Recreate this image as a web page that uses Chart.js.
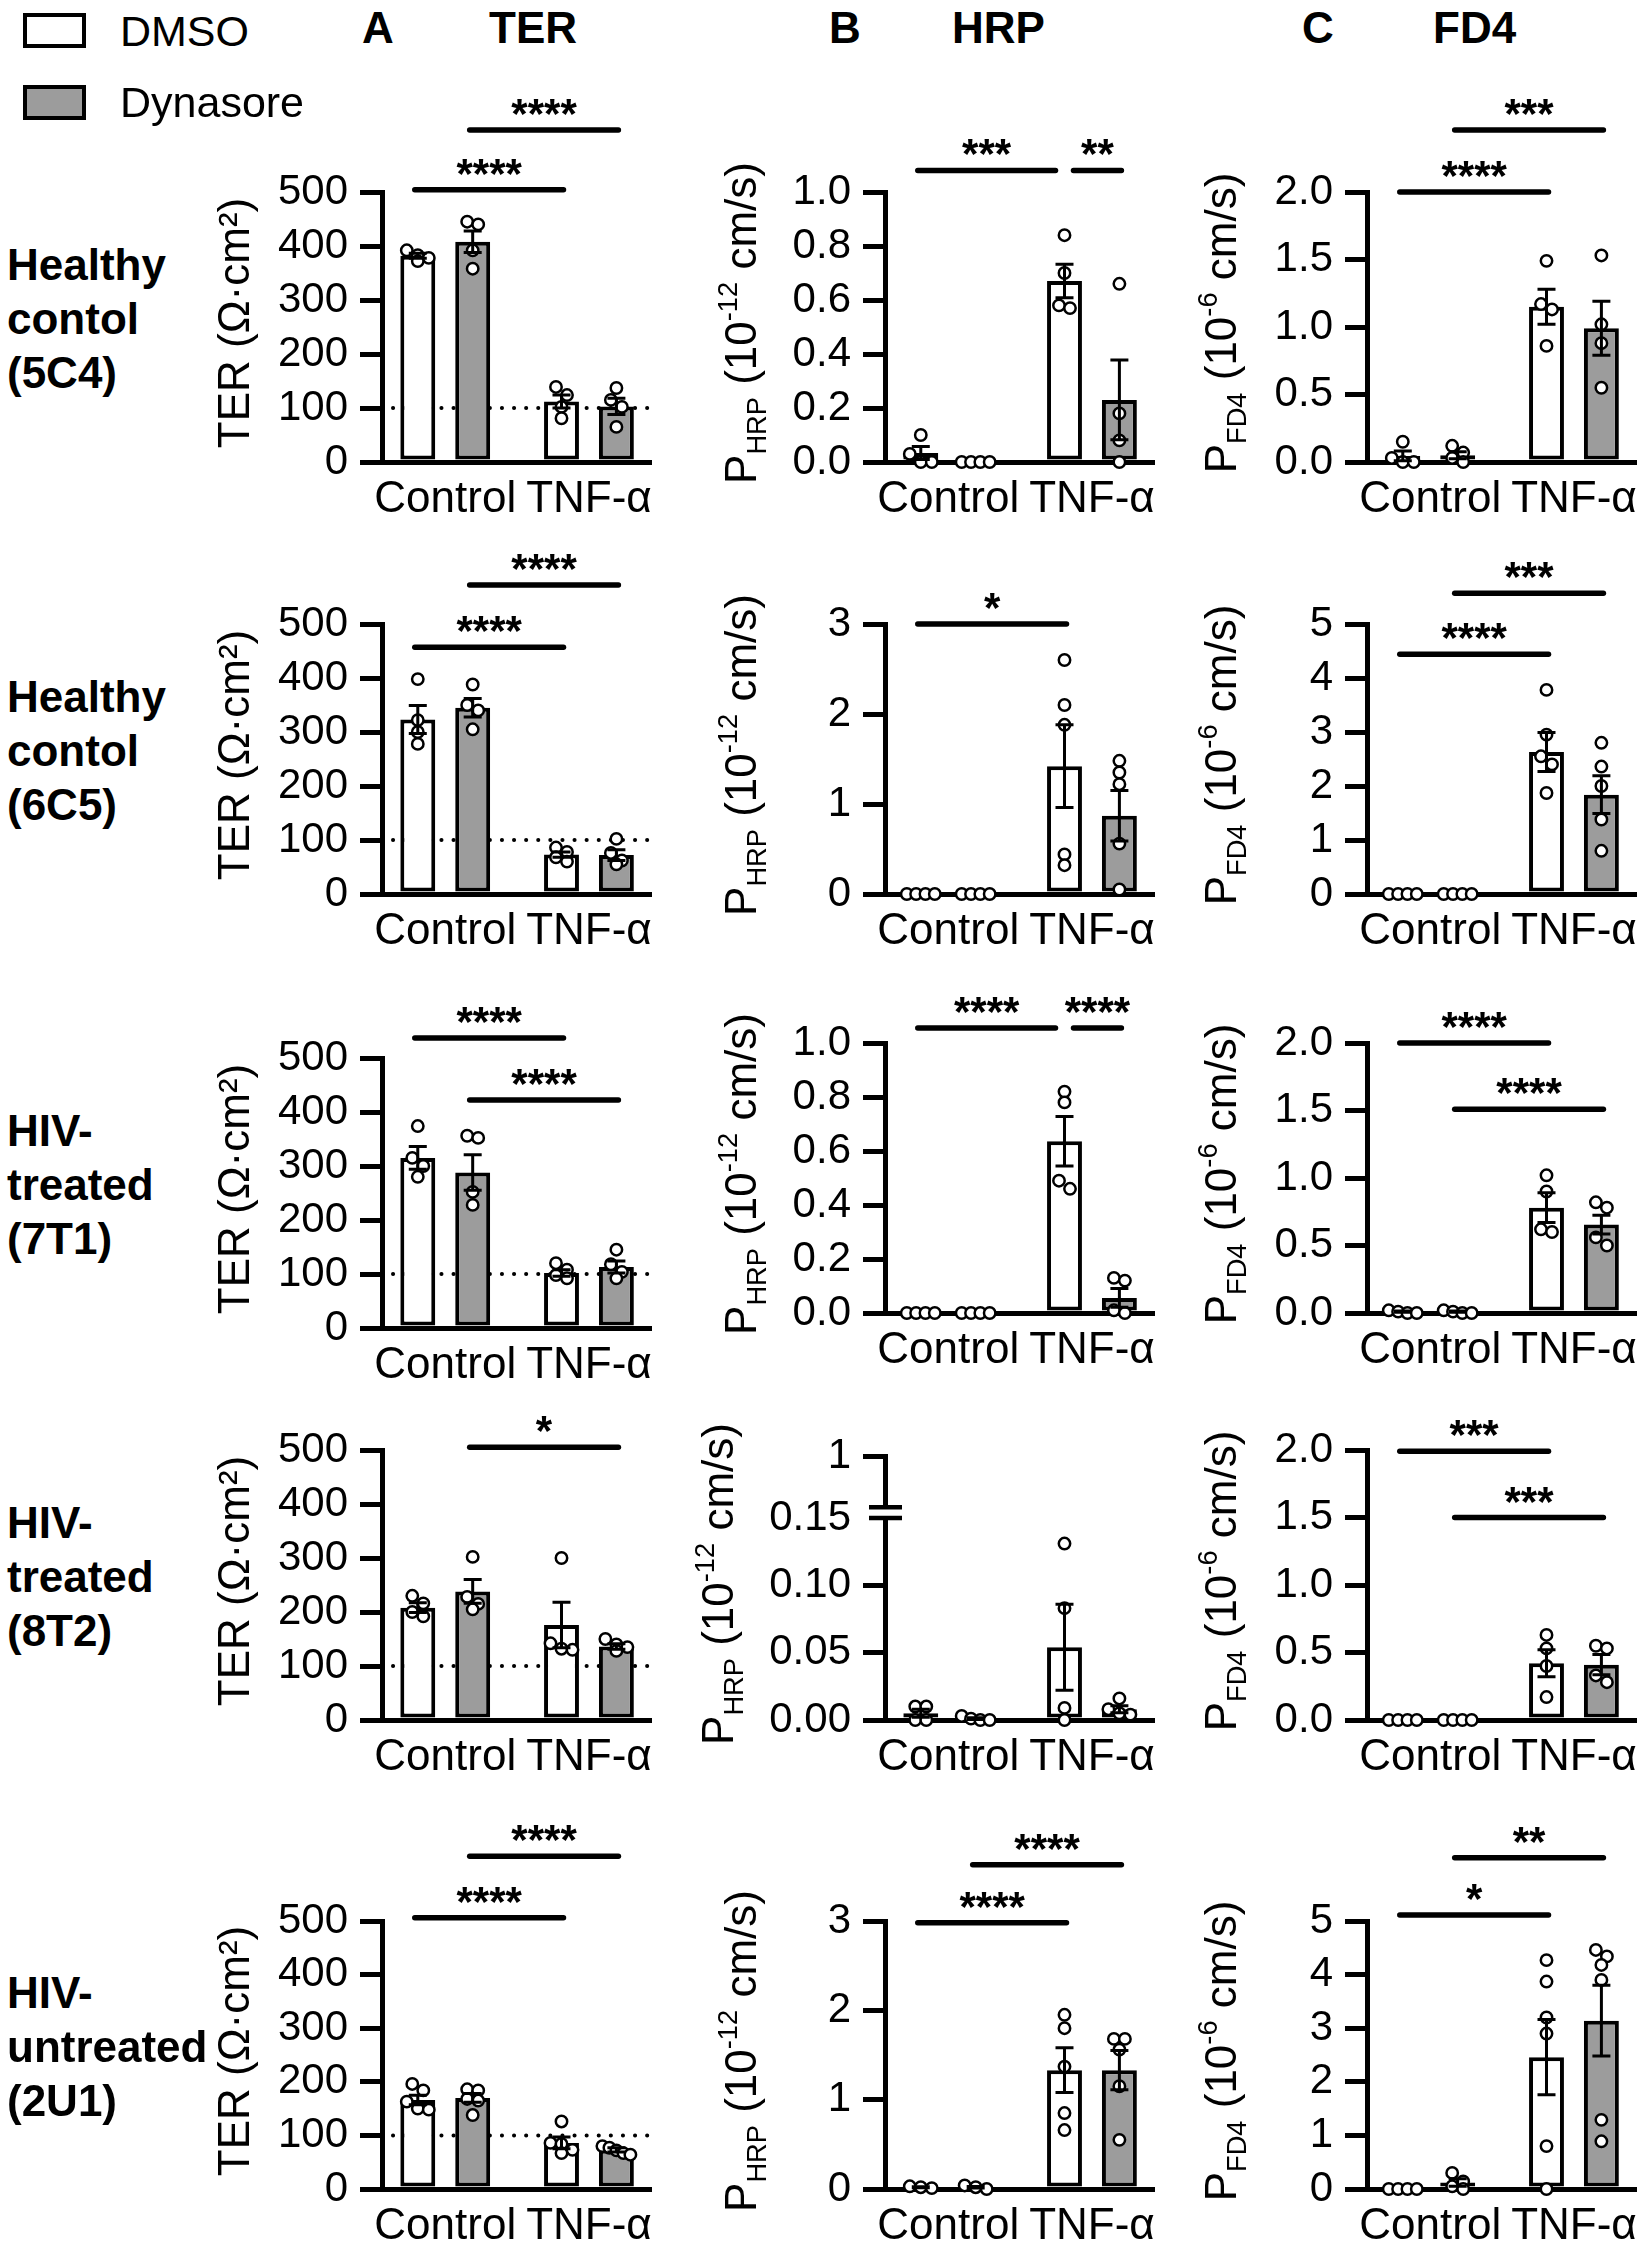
<!DOCTYPE html>
<html>
<head>
<meta charset="utf-8">
<title>TER / HRP / FD4</title>
<script src="https://cdn.jsdelivr.net/npm/chart.js@4.4.1/dist/chart.umd.min.js"></script>
<style>
  html, body { margin: 0; padding: 0; background: #fff; }
  body { width: 1642px; height: 2243px; position: relative; overflow: hidden;
         font-family: Arial, "Liberation Sans", Helvetica, sans-serif; color: #000; }
  canvas { position: absolute; }
  .t { position: absolute; white-space: nowrap; line-height: 1; z-index: 2; }
  .box { position: absolute; border: 4px solid #000; box-sizing: border-box; z-index: 2; }
</style>
</head>
<body>
<script>
const FONT = 'Arial, "Liberation Sans", Helvetica, sans-serif';
const GRAY = '#9c9c9c';

// ---- labels ----
const groups = ['Control', 'TNF-α'];
const treatments = ['DMSO', 'Dynasore'];
const columnLetters = ['A', 'B', 'C'];
const columnTitles = ['TER', 'HRP', 'FD4'];
const rowLabels = [
  ['Healthy', 'contol', '(5C4)'],
  ['Healthy', 'contol', '(6C5)'],
  ['HIV-', 'treated', '(7T1)'],
  ['HIV-', 'treated', '(8T2)'],
  ['HIV-', 'untreated', '(2U1)']
];

// ---- data, bar order: DMSO Control, Dynasore Control, DMSO TNF-α, Dynasore TNF-α ----
const terMean = [
  [382, 408, 112, 103],
  [323, 345, 73, 72],
  [315, 288, 102, 113],
  [208, 238, 176, 136],
  [166, 170, 86, 73]
];
const terSem = [
  [4.5, 20, 12, 15],
  [26, 17, 5, 10],
  [21, 33, 6, 11],
  [9, 22, 42, 5],
  [9, 8, 11, 4]
];
const terPts = [
  [[392, 383, 378, 372], [445, 440, 392, 358], [139, 124, 102, 81], [137, 115, 102, 65]],
  [[398, 322, 300, 278], [388, 350, 340, 305], [86, 78, 68, 60], [102, 76, 62, 55]],
  [[374, 315, 300, 280], [356, 352, 252, 228], [120, 108, 98, 92], [145, 118, 104, 92]],
  [[230, 216, 200, 192], [302, 228, 215, 205], [300, 142, 132, 130], [150, 140, 135, 128]],
  [[196, 184, 163, 150, 148], [186, 184, 168, 165, 138], [126, 86, 84, 73, 67], [80, 77, 72, 67, 64]]
];

const hrpMean = [
  [0.033, 0, 0.67, 0.23],
  [0, 0, 1.42, 0.87],
  [0, 0, 0.636, 0.056],
  [0.005, 0.001, 0.054, 0.008],
  [0.02, 0.02, 1.33, 1.33]
];
const hrpSem = [
  [0.024, 0, 0.062, 0.148],
  [0, 0, 0.46, 0.28],
  [0, 0, 0.092, 0.035],
  [0.003, 0.0007, 0.032, 0.0026],
  [0.006, 0.009, 0.25, 0.22]
];
const hrpPts = [
  [[0.1, 0.03, 0, 0], [0, 0, 0, 0], [0.84, 0.70, 0.58, 0.57], [0.66, 0.18, 0.08, 0]],
  [[0, 0, 0, 0], [0, 0, 0, 0], [2.6, 2.1, 1.88, 0.44, 0.32], [1.48, 1.35, 1.22, 0.56, 0.05]],
  [[0, 0, 0, 0], [0, 0, 0, 0], [0.82, 0.78, 0.49, 0.46], [0.13, 0.12, 0.01, 0]],
  [[0.01, 0.01, 0, 0], [0.003, 0.001, 0, 0], [0.131, 0.083, 0.009, 0], [0.016, 0.008, 0.005, 0.004]],
  [[0.03, 0.02, 0.01], [0.04, 0.02, 0], [1.95, 1.8, 1.37, 0.85, 0.66], [1.68, 1.68, 1.56, 1.15, 0.55]]
];

const fd4Mean = [
  [0.045, 0.05, 1.15, 0.99],
  [0, 0, 2.63, 1.84],
  [0.01, 0.01, 0.78, 0.655],
  [0, 0, 0.42, 0.41],
  [0, 0.12, 2.46, 3.14]
];
const fd4Sem = [
  [0.036, 0.026, 0.13, 0.2],
  [0, 0, 0.36, 0.35],
  [0.005, 0.005, 0.11, 0.07],
  [0, 0, 0.1, 0.075],
  [0, 0.07, 0.7, 0.66]
];
const fd4Pts = [
  [[0.15, 0.03, 0, 0], [0.12, 0.07, 0.03, 0], [1.49, 1.17, 1.13, 0.86], [1.53, 1.02, 0.88, 0.55]],
  [[0, 0, 0, 0], [0, 0, 0, 0], [3.78, 2.95, 2.55, 2.4, 1.87], [2.8, 2.36, 2.0, 1.38, 0.8]],
  [[0.02, 0.01, 0, 0], [0.02, 0.01, 0, 0], [1.02, 0.9, 0.62, 0.6], [0.82, 0.78, 0.56, 0.5]],
  [[0, 0, 0, 0], [0, 0, 0, 0], [0.63, 0.53, 0.40, 0.17], [0.55, 0.53, 0.33, 0.28]],
  [[0, 0, 0, 0], [0.3, 0.14, 0.05, 0], [4.27, 3.87, 3.2, 2.9, 0.8, 0], [4.46, 4.34, 4.18, 3.9, 1.29, 0.89]]
];

// ---- ticks ----
const terTicks = [0, 100, 200, 300, 400, 500];
const terTickLabels = ['0', '100', '200', '300', '400', '500'];
const terRef = 100; // dotted reference line

const hrpTicks = [
  [0, 0.2, 0.4, 0.6, 0.8, 1.0],
  [0, 1, 2, 3],
  [0, 0.2, 0.4, 0.6, 0.8, 1.0],
  [0, 0.05, 0.10, 0.15, 1],
  [0, 1, 2, 3]
];
const hrpTickLabels = [
  ['0.0', '0.2', '0.4', '0.6', '0.8', '1.0'],
  ['0', '1', '2', '3'],
  ['0.0', '0.2', '0.4', '0.6', '0.8', '1.0'],
  ['0.00', '0.05', '0.10', '0.15', '1'],
  ['0', '1', '2', '3']
];
const hrpBreak = [null, null, null, 0.15, null]; // axis broken above this value

const fd4Ticks = [
  [0, 0.5, 1.0, 1.5, 2.0],
  [0, 1, 2, 3, 4, 5],
  [0, 0.5, 1.0, 1.5, 2.0],
  [0, 0.5, 1.0, 1.5, 2.0],
  [0, 1, 2, 3, 4, 5]
];
const fd4TickLabels = [
  ['0.0', '0.5', '1.0', '1.5', '2.0'],
  ['0', '1', '2', '3', '4', '5'],
  ['0.0', '0.5', '1.0', '1.5', '2.0'],
  ['0.0', '0.5', '1.0', '1.5', '2.0'],
  ['0', '1', '2', '3', '4', '5']
];

// ---- significance: [bar from, bar to, stars] ----
const terSig = [
  [[0, 2, '****'], [1, 3, '****']],
  [[0, 2, '****'], [1, 3, '****']],
  [[0, 2, '****'], [1, 3, '****']],
  [[1, 3, '*']],
  [[0, 2, '****'], [1, 3, '****']]
];
const hrpSig = [
  [[0, 2, '***'], [2, 3, '**']],
  [[0, 2, '*']],
  [[0, 2, '****'], [2, 3, '****']],
  [],
  [[0, 2, '****'], [1, 3, '****']]
];
const fd4Sig = [
  [[0, 2, '****'], [1, 3, '***']],
  [[0, 2, '****'], [1, 3, '***']],
  [[0, 2, '****'], [1, 3, '****']],
  [[0, 2, '***'], [1, 3, '***']],
  [[0, 2, '*'], [1, 3, '**']]
];
// bracket heights, in axis units
const terSigY = [[504, 615], [457, 572], [537, 422], [505], [506, 621]];
const hrpSigY = [[1.08, 1.08], [3.0], [1.056, 1.056], [], [2.98, 3.63]];
const fd4SigY = [[2.0, 2.46], [4.44, 5.57], [2.0, 1.51], [1.99, 1.5], [5.11, 6.18]];

const yTitles = [
  [{ t: 'TER (Ω·cm²)' }],
  [{ t: 'P' }, { t: 'HRP', sub: true }, { t: ' (10' }, { t: '-12', sup: true }, { t: ' cm/s)' }],
  [{ t: 'P' }, { t: 'FD4', sub: true }, { t: ' (10' }, { t: '-6', sup: true }, { t: ' cm/s)' }]
];

// ---- layout (pixels) ----
const AXIS_X = [382, 885, 1367];
const PLOT_TOP = [[192, 192, 192], [624, 624, 624], [1058, 1043, 1043], [1450, 1456, 1450], [1921, 1921, 1921]];
const PLOT_BOTTOM = [[462, 462, 462], [894, 894, 894], [1328, 1313, 1313], [1720, 1720, 1720], [2189, 2189, 2189]];
const TITLE_DX = [[-149, -145, -147], [-149, -145, -147], [-149, -145, -147], [-149, -168, -147], [-149, -145, -147]];
const AXIS_W = 205, X_LEN = 270, PAD_R = 14, PAD_T = 125, X_H = 70;
const X_MIN = -0.44, X_MAX = 1.434;
const BREAK_TOP = 0.196, BREAK_GAP = 0.008;

function addText(str, x, baseline, size, bold) {
  const d = document.createElement('div');
  d.className = 't';
  d.textContent = str;
  d.style.left = x + 'px';
  d.style.top = (baseline - 0.8465 * size) + 'px';
  d.style.fontSize = size + 'px';
  d.style.fontWeight = bold ? 'bold' : 'normal';
  document.body.appendChild(d);
}

function addBox(x, y, fill) {
  const b = document.createElement('div');
  b.className = 'box';
  b.style.left = x + 'px';
  b.style.top = y + 'px';
  b.style.width = '63px';
  b.style.height = '35px';
  b.style.background = fill;
  document.body.appendChild(b);
}

function drawRotated(ctx, segs, cx, cy, size) {
  const small = size * 0.62;
  ctx.save();
  ctx.translate(cx, cy);
  ctx.rotate(-Math.PI / 2);
  ctx.fillStyle = '#000';
  ctx.textAlign = 'left';
  ctx.textBaseline = 'alphabetic';
  let total = 0;
  const parts = segs.map(s => {
    const fs = (s.sub || s.sup) ? small : size;
    ctx.font = fs + 'px ' + FONT;
    const w = ctx.measureText(s.t).width;
    total += w;
    return { s, fs, w };
  });
  let x = -total / 2;
  for (const p of parts) {
    ctx.font = p.fs + 'px ' + FONT;
    let y = size * 0.36;
    if (p.s.sub) y += size * 0.24;
    if (p.s.sup) y -= size * 0.42;
    ctx.fillText(p.s.t, x, y);
    x += p.w;
  }
  ctx.restore();
}

// spread points that sit at about the same height, like a column scatter
function spread(ys) {
  const order = ys.map((y, i) => i).sort((a, b) => ys[a] - ys[b]);
  const dx = new Array(ys.length).fill(0);
  let k = 0;
  while (k < order.length) {
    let j = k;
    while (j + 1 < order.length && ys[order[j + 1]] - ys[order[k]] < 9) j++;
    const n = j - k + 1;
    if (n > 1) {
      const step = Math.min(11, 28 / (n - 1));
      for (let m = 0; m < n; m++) dx[order[k + m]] = (m - (n - 1) / 2) * step;
    }
    k = j + 1;
  }
  return dx;
}

function buildPanel(row, col) {
  const mean = [terMean, hrpMean, fd4Mean][col][row];
  const sem = [terSem, hrpSem, fd4Sem][col][row];
  const pts = [terPts, hrpPts, fd4Pts][col][row];
  const tickVals = col === 0 ? terTicks : (col === 1 ? hrpTicks[row] : fd4Ticks[row]);
  const tickLabels = col === 0 ? terTickLabels : (col === 1 ? hrpTickLabels[row] : fd4TickLabels[row]);
  const sig = [terSig, hrpSig, fd4Sig][col][row];
  const sigY = [terSigY, hrpSigY, fd4SigY][col][row];
  const brk = col === 1 ? hrpBreak[row] : null;

  const ticks = tickVals.map(v => (brk !== null && v > brk) ? BREAK_TOP : v);
  const yMax = ticks[ticks.length - 1];

  const axisX = AXIS_X[col], top = PLOT_TOP[row][col], bottom = PLOT_BOTTOM[row][col];
  const W = AXIS_W + X_LEN + PAD_R;
  const H = PAD_T + (bottom - top) + X_H;
  const canvas = document.createElement('canvas');
  canvas.width = W;
  canvas.height = H;
  canvas.style.left = (axisX - AXIS_W) + 'px';
  canvas.style.top = (top - PAD_T) + 'px';
  canvas.style.width = W + 'px';
  canvas.style.height = H + 'px';
  document.body.appendChild(canvas);

  const barData = (d) => [0, 1].map(g => ({ x: g, y: mean[g * 2 + d] }));

  const extras = {
    id: 'extras' + row + col,
    beforeDatasetsDraw(chart) {
      if (col !== 0) return;
      const { ctx, chartArea } = chart;
      const y = chart.scales.y.getPixelForValue(terRef);
      ctx.save();
      ctx.strokeStyle = '#000';
      ctx.lineWidth = 4;
      ctx.lineCap = 'round';
      ctx.setLineDash([0.1, 12]);
      ctx.beginPath();
      ctx.moveTo(chartArea.left + 11, y);
      ctx.lineTo(chartArea.right, y);
      ctx.stroke();
      ctx.restore();
    },
    afterDatasetsDraw(chart) {
      const { ctx } = chart;
      const ys = chart.scales.y;
      const barX = (i) => chart.getDatasetMeta(i % 2).data[Math.floor(i / 2)].x;

      // individual points
      ctx.save();
      ctx.lineWidth = 2.5;
      ctx.strokeStyle = '#000';
      ctx.fillStyle = '#fff';
      for (let i = 0; i < 4; i++) {
        const py = pts[i].map(v => ys.getPixelForValue(v));
        const dx = spread(py);
        py.forEach((y, k) => {
          ctx.beginPath();
          ctx.arc(barX(i) + dx[k], y, 5.7, 0, Math.PI * 2);
          ctx.fill();
          ctx.stroke();
        });
      }
      // SEM error bars
      ctx.lineWidth = 3;
      ctx.lineCap = 'butt';
      for (let i = 0; i < 4; i++) {
        if (!sem[i]) continue;
        const x = barX(i);
        const y1 = ys.getPixelForValue(mean[i] + sem[i]);
        const y0 = ys.getPixelForValue(Math.max(0, mean[i] - sem[i]));
        ctx.beginPath();
        ctx.moveTo(x, y0); ctx.lineTo(x, y1);
        ctx.moveTo(x - 9, y1); ctx.lineTo(x + 9, y1);
        ctx.moveTo(x - 9, y0); ctx.lineTo(x + 9, y0);
        ctx.stroke();
      }
      // significance brackets
      ctx.lineWidth = 5.5;
      ctx.lineCap = 'round';
      ctx.fillStyle = '#000';
      ctx.font = 'bold 42px ' + FONT;
      ctx.textAlign = 'center';
      ctx.textBaseline = 'alphabetic';
      sig.forEach((s, k) => {
        const [a, b, stars] = s;
        let x1 = barX(a) - 3, x2 = barX(b) + 2;
        sig.forEach((o, m) => {
          if (m === k || sigY[m] !== sigY[k]) return;
          if (o[1] === a) x1 = barX(a) + 9;
          if (o[0] === b) x2 = barX(b) - 9;
        });
        const y = ys.getPixelForValue(sigY[k]);
        ctx.beginPath();
        ctx.moveTo(x1, y); ctx.lineTo(x2, y);
        ctx.stroke();
        ctx.fillText(stars, (x1 + x2) / 2, y - 2);
      });
      ctx.restore();
    },
    afterDraw(chart) {
      const { ctx, chartArea } = chart;
      const ys = chart.scales.y;
      if (brk !== null) {
        const yLo = ys.getPixelForValue(brk);
        const yHi = ys.getPixelForValue(brk + BREAK_GAP);
        ctx.save();
        ctx.fillStyle = '#fff';
        ctx.fillRect(chartArea.left - 4, yHi, 8, yLo - yHi);
        ctx.strokeStyle = '#000';
        ctx.lineWidth = 4.5;
        ctx.beginPath();
        ctx.moveTo(chartArea.left - 16, yLo); ctx.lineTo(chartArea.left + 17, yLo);
        ctx.moveTo(chartArea.left - 16, yHi); ctx.lineTo(chartArea.left + 17, yHi);
        ctx.stroke();
        ctx.restore();
      }
      const cy = (chartArea.top + chartArea.bottom) / 2 - 4;
      drawRotated(ctx, yTitles[col], chartArea.left + TITLE_DX[row][col], cy, 44);
    }
  };

  new Chart(canvas, {
    type: 'bar',
    data: {
      datasets: treatments.map((name, d) => ({
        label: name,
        data: barData(d),
        backgroundColor: d === 0 ? '#ffffff' : GRAY,
        borderColor: '#000',
        borderWidth: 4,
        borderSkipped: false,
        categoryPercentage: 0.764,
        barPercentage: 0.636
      }))
    },
    options: {
      responsive: false,
      animation: false,
      layout: { padding: { top: PAD_T, right: PAD_R, left: 0, bottom: 0 } },
      plugins: { legend: { display: false }, tooltip: { enabled: false } },
      scales: {
        x: {
          type: 'linear',
          min: X_MIN,
          max: X_MAX,
          offset: false,
          grid: { display: false, drawTicks: false },
          border: { display: true, color: '#000', width: 5 },
          ticks: {
            autoSkip: false, maxRotation: 0, minRotation: 0,
            color: '#000', padding: 11,
            font: { size: 44, family: FONT },
            callback: (v) => groups[v]
          },
          afterBuildTicks: (s) => { s.ticks = [{ value: 0 }, { value: 1 }]; },
          afterFit: (s) => { s.height = X_H; }
        },
        y: {
          type: 'linear',
          min: 0,
          max: yMax,
          grid: {
            drawOnChartArea: false, drawTicks: true, tickLength: 22, lineWidth: 5,
            color: (c) => (brk !== null && c.tick && c.tick.value === brk) ? 'rgba(0,0,0,0)' : '#000'
          },
          border: { display: true, color: '#000', width: 5 },
          ticks: {
            color: '#000', padding: 12,
            font: { size: 42, family: FONT },
            callback: (v, i) => tickLabels[i]
          },
          afterBuildTicks: (s) => { s.ticks = ticks.map(v => ({ value: v })); },
          afterFit: (s) => { s.width = AXIS_W; }
        }
      }
    },
    plugins: [extras]
  });
}

for (let r = 0; r < 5; r++) {
  for (let c = 0; c < 3; c++) buildPanel(r, c);
}

// legend
addBox(23, 13, '#ffffff');
addBox(23, 85, GRAY);
addText(treatments[0], 120, 46, 43, false);
addText(treatments[1], 120, 117, 43, false);

// column headings
const letterX = [362, 829, 1302];
const titleX = [489, 952, 1433];
for (let c = 0; c < 3; c++) {
  addText(columnLetters[c], letterX[c], 43, 44, true);
  addText(columnTitles[c], titleX[c], 43, 44, true);
}

// row labels
rowLabels.forEach((lines, r) => {
  const mid = (PLOT_TOP[r][0] + PLOT_BOTTOM[r][0]) / 2 + 7;
  lines.forEach((s, k) => addText(s, 7, mid + (k - 1) * 54, 44, true));
});
</script>
</body>
</html>
